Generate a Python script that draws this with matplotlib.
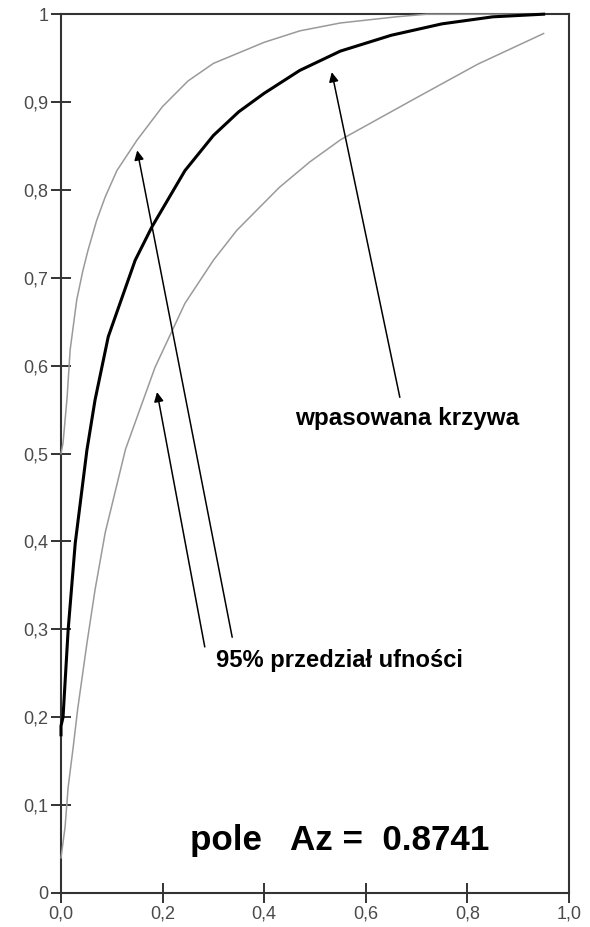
import matplotlib.pyplot as plt

plt.rcParams['font.family'] = ['Liberation Sans', 'DejaVu Sans']

# dopasowana krzywa ROC
fit_x = [0.0, 0.0, 0.004, 0.014, 0.028, 0.051, 0.067, 0.093, 0.146, 0.179, 0.244, 0.3, 0.35, 0.4, 0.47,
         0.55, 0.65, 0.75, 0.85, 0.95]
fit_y = [0.18, 0.19, 0.20, 0.299, 0.398, 0.504, 0.561, 0.633, 0.72, 0.758, 0.822, 0.862, 0.889, 0.91, 0.936,
         0.958, 0.976, 0.989, 0.997, 1.0]

# górna granica przedziału ufności
up_x = [0.0, 0.004, 0.012, 0.018, 0.031, 0.043, 0.053, 0.07, 0.087, 0.11, 0.15, 0.2, 0.25, 0.3, 0.4,
        0.47, 0.55, 0.66, 0.72, 0.95]
up_y = [0.50, 0.512, 0.564, 0.618, 0.675, 0.708, 0.731, 0.765, 0.792, 0.822, 0.857, 0.895, 0.924, 0.944,
        0.968, 0.981, 0.99, 0.997, 1.0, 1.0]

# dolna granica przedziału ufności
lo_x = [0.0, 0.008, 0.014, 0.024, 0.033, 0.051, 0.067, 0.087, 0.127, 0.185, 0.244, 0.3, 0.346,
        0.43, 0.49, 0.55, 0.7, 0.82, 0.95]
lo_y = [0.04, 0.075, 0.12, 0.166, 0.21, 0.284, 0.345, 0.41, 0.505, 0.598, 0.671, 0.72, 0.754,
        0.803, 0.832, 0.857, 0.905, 0.943, 0.978]

xticks = [0.0, 0.2, 0.4, 0.6, 0.8, 1.0]
xlabels = ['0,0', '0,2', '0,4', '0,6', '0,8', '1,0']
yticks = [0, 0.1, 0.2, 0.3, 0.4, 0.5, 0.6, 0.7, 0.8, 0.9, 1]
ylabels = ['0', '0,1', '0,2', '0,3', '0,4', '0,5', '0,6', '0,7', '0,8', '0,9', '1']

area = 0.8741

fig = plt.figure(figsize=(5.9, 9.27), dpi=100)
ax = fig.add_axes([0.1034, 0.0367, 0.861, 0.948])

ax.plot(up_x, up_y, color='#9a9a9a', lw=1.1, zorder=3, clip_on=False, solid_joinstyle='round')
ax.plot(lo_x, lo_y, color='#9a9a9a', lw=1.1, zorder=3, clip_on=False, solid_joinstyle='round')
ax.plot(fit_x, fit_y, color='black', lw=2.2, zorder=4, clip_on=False, solid_joinstyle='round')

ax.set_xlim(0, 1)
ax.set_ylim(0, 1)
ax.set_xticks(xticks)
ax.set_xticklabels(xlabels)
ax.set_yticks(yticks)
ax.set_yticklabels(ylabels)
ax.tick_params(direction='inout', length=14, width=1.4, color='#333333',
               labelcolor='#4a4a4a', labelsize=13, pad=2)
for s in ax.spines.values():
    s.set_color('#333333')
    s.set_linewidth(1.5)

arrow = dict(arrowstyle='-|>', color='black', lw=1.1, mutation_scale=14, shrinkA=0, shrinkB=0)
ax.annotate('', xy=(0.15, 0.845), xytext=(0.337, 0.291), arrowprops=arrow, zorder=5)
ax.annotate('', xy=(0.189, 0.57), xytext=(0.283, 0.28), arrowprops=arrow, zorder=5)
ax.annotate('', xy=(0.533, 0.934), xytext=(0.667, 0.564), arrowprops=arrow, zorder=5)

ax.text(0.46, 0.54, 'wpasowana krzywa', fontsize=17.5, fontweight='bold',
        ha='left', va='center', zorder=6)
ax.text(0.305, 0.265, '95% przedział ufności', fontsize=17.1, fontweight='bold',
        ha='left', va='center', zorder=6)
ax.text(0.254, 0.06, 'pole   Az =  %.4f' % area, fontsize=25.2, fontweight='bold',
        ha='left', va='center', zorder=6)

fig.savefig('out.png', dpi=100)
